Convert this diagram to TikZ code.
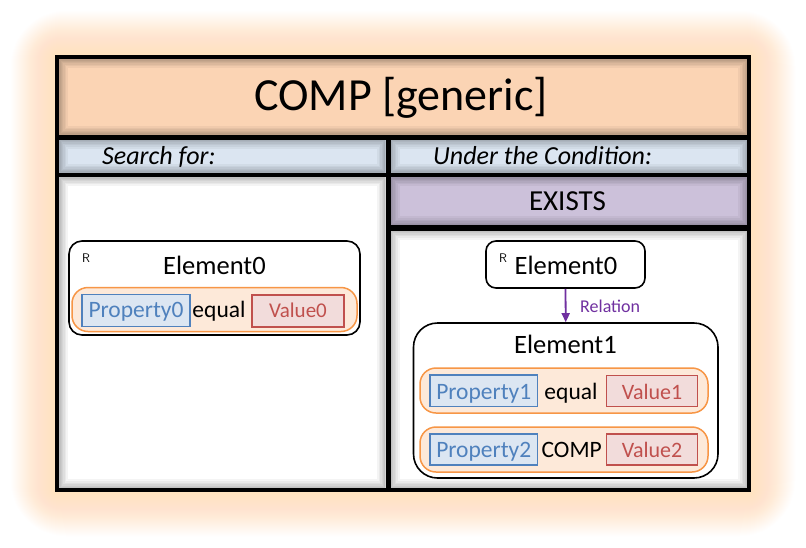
\documentclass[tikz,border=0pt]{standalone}
\usepackage{fontspec}
\setmainfont{Carlito}
\usetikzlibrary{arrows.meta}
\definecolor{peach}{HTML}{FBD4B4}
\definecolor{hdrblue}{HTML}{DBE5F1}
\definecolor{existspurple}{HTML}{CCC1DA}
\definecolor{glowc}{HTML}{FFE3AE}
\definecolor{rowfill}{HTML}{FDE9D9}
\definecolor{rowline}{HTML}{F79646}
\definecolor{propfill}{HTML}{DCE6F2}
\definecolor{propline}{HTML}{4F81BD}
\definecolor{valfill}{HTML}{F2DCDB}
\definecolor{valline}{HTML}{C0504D}
\definecolor{relcol}{HTML}{7030A0}
\newcommand\cellshade[4]{%
  \begin{scope}
    \clip (#1,#2) rectangle (#3,#4);
    \foreach \w in {18,14,11,8,5,3}{\draw[black,opacity=0.045,line width=\w pt] (#1,#2) rectangle (#3,#4);}
  \end{scope}}
\tikzset{
  txt/.style={inner sep=0pt, anchor=base},
  elbox/.style={draw=black, line width=1.6pt, fill=white, inner sep=0pt},
  rowbox/.style={draw=rowline, line width=1.5pt, fill=rowfill, rounded corners=16pt, inner sep=0pt},
  propbox/.style={draw=propline, line width=1.4pt, fill=propfill, inner sep=0pt, minimum width=107.5pt},
  valbox/.style={draw=valline, line width=1.4pt, fill=valfill, inner sep=0pt, minimum width=91pt},
  proptxt/.style={txt, text=propline, font=\fontsize{23.5}{26}\selectfont},
  valtxt/.style={txt, text=valline, font=\fontsize{22}{25}\selectfont},
  optxt/.style={txt, font=\fontsize{23.5}{26}\selectfont},
  eltxt/.style={txt, font=\fontsize{26.5}{30}\selectfont},
  rmark/.style={txt, font=\fontsize{12.5}{13}\selectfont\sffamily},
  relarrow/.style={draw=relcol, line width=1.8pt, -{Triangle[length=9pt,width=8pt]}, fill=relcol}
}
\begin{document}
\begin{tikzpicture}[x=1pt,y=-1pt]
\useasboundingbox (0,0) rectangle (806,547);
\fill[white] (0,0) rectangle (806,547);
% glow
\foreach \d in {1,2,...,46}{
  \fill[glowc, opacity=0.024, rounded corners={1.2*\d pt}] (57-\d,57-\d) rectangle (749+\d,490+\d);
}
% frame
\fill[black] (55,55) rectangle (751,492);
\fill[peach] (59,59) rectangle (747,134.5);
\fill[hdrblue] (59,139.5) rectangle (385.7,172.7);
\fill[hdrblue] (390.7,139.5) rectangle (747,172.7);
\fill[white] (59,177) rectangle (385.7,488);
\fill[existspurple] (390.7,177) rectangle (747,225);
\fill[white] (390.7,230.7) rectangle (747,488);
\cellshade{59}{59}{747}{134.5}
\cellshade{59}{139.5}{385.7}{172.7}
\cellshade{390.7}{139.5}{747}{172.7}
\cellshade{59}{177}{385.7}{488}
\cellshade{390.7}{177}{747}{225}
\cellshade{390.7}{230.7}{747}{488}
% headers
\node[txt, font=\fontsize{46}{50}\selectfont] (title) at (401,110) {COMP [generic]};
\node[txt, anchor=base west, font=\fontsize{26}{30}\selectfont\itshape] (searchfor) at (102,164.5) {Search for:};
\node[txt, anchor=base west, font=\fontsize{26}{30}\selectfont\itshape] (undercond) at (433,164.5) {Under the Condition:};
\node[txt, font=\fontsize{29}{32}\selectfont] (exists) at (567.5,210) {EXISTS};
% left element
\node[elbox, rounded corners=13pt, minimum width=291pt, minimum height=94pt] (e0l) at (214.5,288) {};
\node[rmark] (rl) at (86,262) {R};
\node[eltxt] (e0ltxt) at (214.5,274.3) {Element0};
\node[rowbox, minimum width=285pt, minimum height=44pt] (row0) at (214.5,309.5) {};
\node[propbox, minimum width=108pt, minimum height=32pt] (p0) at (136,310.5) {};
\node[proptxt] (p0t) at (136,317.3) {Property0};
\node[optxt] (op0) at (219,317.3) {equal};
\node[valbox, minimum width=92pt, minimum height=32pt] (v0) at (298,311) {};
\node[valtxt, font=\fontsize{21}{24}\selectfont] (v0t) at (298,317.5) {Value0};
% right elements
\node[elbox, rounded corners=10pt, minimum width=159pt, minimum height=47pt] (e0r) at (565.5,264.5) {};
\node[rmark] (rr) at (503,262) {R};
\node[eltxt] (e0rtxt) at (566,274.3) {Element0};
\node[elbox, rounded corners=24pt, minimum width=304.5pt, minimum height=155pt] (e1) at (565.75,400.5) {};
\node[eltxt] (e1txt) at (565.5,353.3) {Element1};
\draw[relarrow] (e0r.south) -- (e1.north);
\node[txt, anchor=base west, text=relcol, font=\fontsize{18}{20}\selectfont] (rel) at (580,312.7) {Relation};
% row 1
\node[rowbox, minimum width=288pt, minimum height=45pt] (row1) at (564,390.5) {};
\node[propbox, minimum height=31.5pt] (p1) at (483.75,390.75) {};
\node[proptxt] (p1t) at (483.75,399.3) {Property1};
\node[optxt] (op1) at (571,399.3) {equal};
\node[valbox, minimum height=31pt] (v1) at (652,391) {};
\node[valtxt] (v1t) at (652,399.3) {Value1};
% row 2
\node[rowbox, minimum width=288pt, minimum height=45pt] (row2) at (564,449.5) {};
\node[propbox, minimum height=31pt] (p2) at (483.75,449.5) {};
\node[proptxt] (p2t) at (483.75,457) {Property2};
\node[optxt] (op2) at (571.7,457) {COMP};
\node[valbox, minimum height=31pt] (v2) at (652,449.5) {};
\node[valtxt] (v2t) at (652,457) {Value2};
\end{tikzpicture}
\end{document}
